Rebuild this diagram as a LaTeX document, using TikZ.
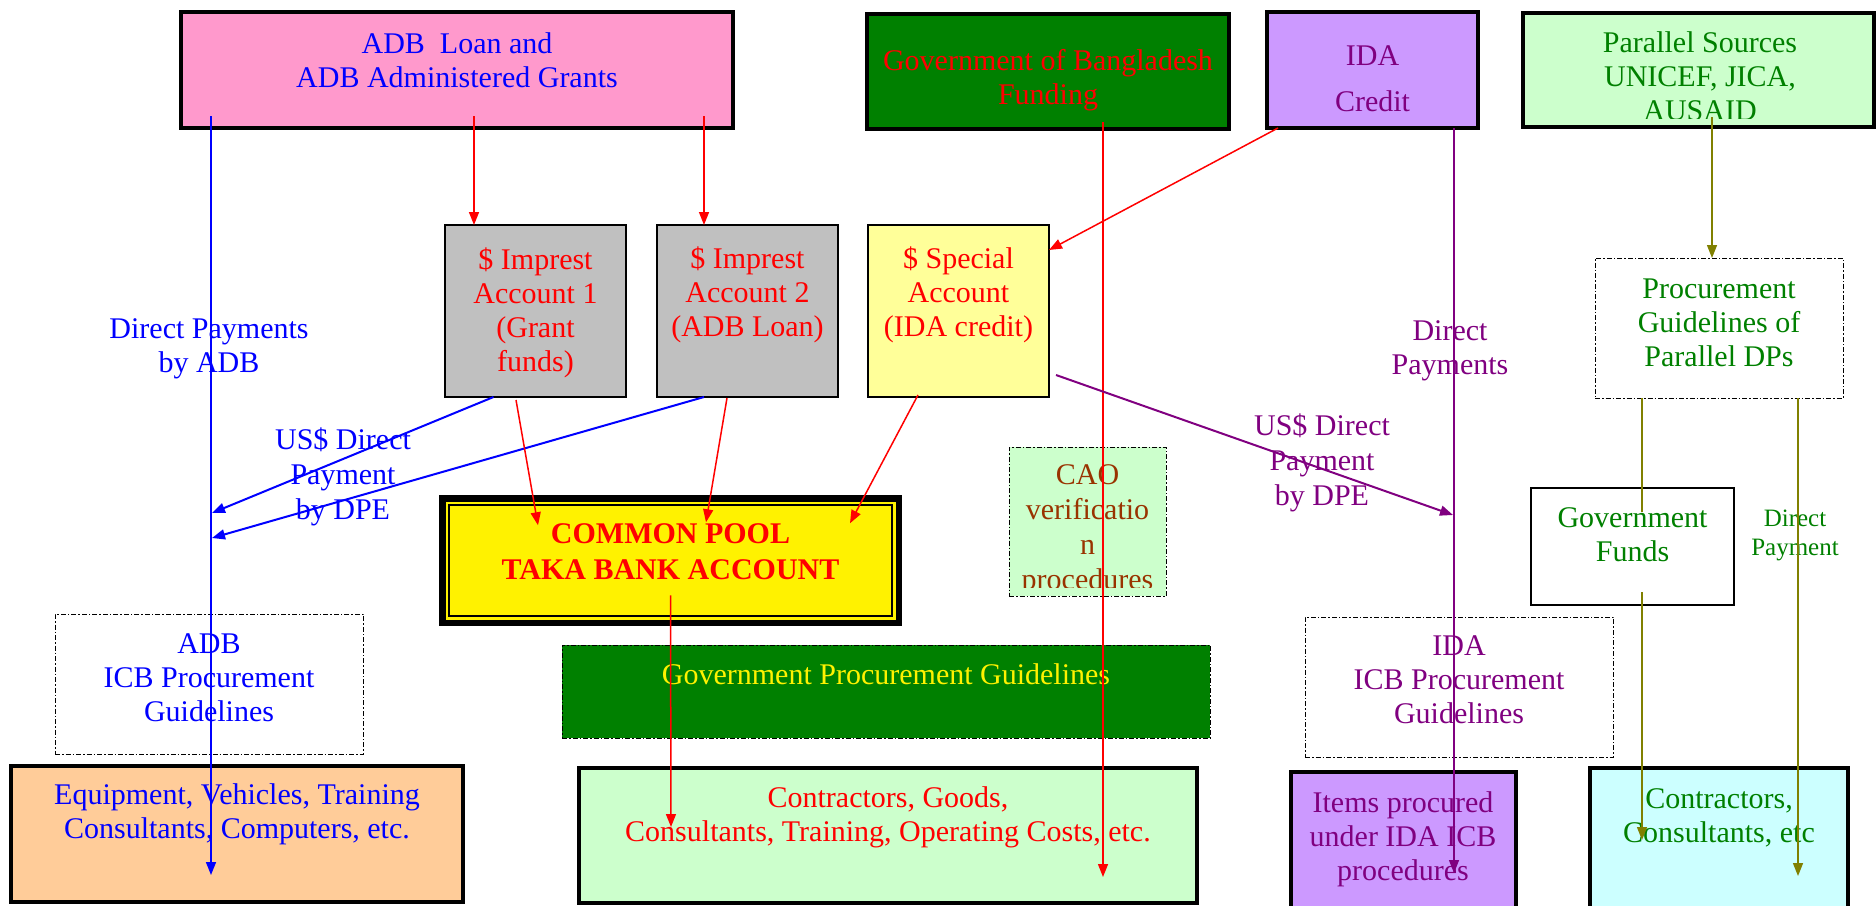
\documentclass[tikz,border=0pt]{standalone}
\usepackage{fontspec}
\setmainfont{Liberation Serif}
\usetikzlibrary{arrows.meta}
\definecolor{adbpink}{HTML}{FF99CC}
\definecolor{gobgreen}{HTML}{008000}
\definecolor{idalilac}{HTML}{CC99FF}
\definecolor{palegreen}{HTML}{CCFFCC}
\definecolor{impgray}{HTML}{C0C0C0}
\definecolor{spayellow}{HTML}{FFFF99}
\definecolor{caobrown}{HTML}{993300}
\definecolor{idapurple}{HTML}{800080}
\definecolor{olive}{HTML}{808000}
\definecolor{equiporange}{HTML}{FFCC99}
\definecolor{palecyan}{HTML}{CCFFFF}

\begin{document}
\begin{tikzpicture}[x=1pt,y=-1pt,
		box/.style={draw=black, line width=3.5pt, outer sep=0pt, inner sep=0pt},
		thinbox/.style={draw=black, line width=1.5pt, outer sep=0pt, inner sep=0pt},
		dotbox/.style={draw=black, line width=1pt, dash pattern=on 5pt off 2pt on 1.5pt off 2pt, outer sep=0pt, inner sep=0pt},
		txt/.style={align=center, inner sep=0pt, font=\fontsize{30}{34}\selectfont},
		arr/.style={line width=1.5pt, -{Triangle[length=13pt,width=10pt]}}]
		\useasboundingbox (0,0) rectangle (1876,905);
		% sources
		\node[box, fill=adbpink, minimum width=552pt, minimum height=116pt] (adb) at (457,70) {};
		\node[box, fill=gobgreen, minimum width=362pt, minimum height=115pt] (gob) at (1048,71.5) {};
		\node[box, fill=idalilac, minimum width=211pt, minimum height=116pt] (ida) at (1372.5,70) {};
		\node[box, fill=palegreen, minimum width=351pt, minimum height=114pt] (par) at (1698.5,70) {};
		% accounts
		\node[thinbox, fill=impgray, minimum width=181pt, minimum height=172pt] (imp1) at (535.5,311) {};
		\node[thinbox, fill=impgray, minimum width=181pt, minimum height=172pt] (imp2) at (747.5,311) {};
		\node[thinbox, fill=spayellow, minimum width=181pt, minimum height=172pt] (spa) at (958.5,311) {};
		\node[draw=black, line width=6.5pt, fill=yellow, outer sep=0pt, minimum width=456.5pt, minimum height=124.5pt] (pool) at (670.5,560.5) {};
		\draw[line width=1.8pt] ([shift={(6.5pt,-6.5pt)}]pool.north west) rectangle ([shift={(-6.5pt,6.5pt)}]pool.south east);
		\node[dotbox, fill=palegreen, minimum width=157pt, minimum height=149pt] (cao) at (1087.5,521.5) {};
		\node[dotbox, minimum width=248pt, minimum height=140pt] (ppg) at (1719,328) {};
		\node[draw=black, line width=2pt, outer sep=0pt, minimum width=203pt, minimum height=117pt] (gfund) at (1632.5,546.5) {};
		% guidelines
		\node[dotbox, minimum width=308pt, minimum height=140pt] (adbicb) at (209,684) {};
		\node[dotbox, fill=gobgreen, minimum width=648pt, minimum height=93pt] (gpg) at (886,691.5) {};
		\node[dotbox, minimum width=308pt, minimum height=140pt] (idaicb) at (1459,687) {};
		% end uses
		\node[box, fill=equiporange, minimum width=452pt, minimum height=136pt] (equip) at (237,834) {};
		\node[box, fill=palegreen, minimum width=618pt, minimum height=135pt] (cgoods) at (888,835.5) {};
		\node[box, fill=idalilac, minimum width=225pt, minimum height=143pt] (items) at (1403.5,843.5) {};
		\node[box, fill=palecyan, minimum width=258pt, minimum height=147pt] (ccons) at (1719,841.5) {};

		% texts
		\node[txt, blue] (adbtxt) at (457,60) {ADB\ \ Loan and\\ADB Administered Grants};
		\node[txt, red] (gobtxt) at (1048,80) {Government of Bangladesh\\Funding};
		\node[txt, idapurple] (idatxt) at (1372.5,78.5) {IDA\\[12pt]Credit};
		\begin{scope}
			\clip (par.north west) rectangle ([yshift=9pt]par.south east);
			\node[txt, gobgreen] (partxt) at (1700,76) {Parallel Sources\\UNICEF, JICA,\\AUSAID};
		\end{scope}
		\node[txt, red] (imp1txt) at (535.5,313) {\$ Imprest\\Account 1\\(Grant\\funds)};
		\node[txt, red] (imp2txt) at (747.5,295) {\$ Imprest\\Account 2\\(ADB Loan)};
		\node[txt, red] (spatxt) at (958.5,295) {\$ Special\\Account\\(IDA credit)};
		\node[txt, red, font=\fontsize{30}{36}\selectfont\bfseries] (pooltxt) at (670.5,552) {COMMON POOL\\TAKA BANK ACCOUNT};
		\begin{scope}
			\clip (cao.north west) rectangle ([yshift=9pt]cao.south east);
			\node[txt, caobrown, font=\fontsize{30}{35}\selectfont] (caotxt) at (1087.5,530) {CAO\\verificatio\\n\\procedures};
		\end{scope}
		\node[txt, gobgreen] (ppgtxt) at (1719,323) {Procurement\\Guidelines of\\Parallel DPs};
		\node[txt, gobgreen] (gfundtxt) at (1632.5,535) {Government\\Funds};
		\node[txt, blue] (adbicbtxt) at (209,678) {ADB\\ICB Procurement\\Guidelines};
		\node[txt, yellow] (gpgtxt) at (886,674) {Government Procurement Guidelines};
		\node[txt, idapurple] (idaicbtxt) at (1459,680) {IDA\\ICB Procurement\\Guidelines};
		\node[txt, blue] (equiptxt) at (237,814) {Equipment, Vehicles, Training\\Consultants, Computers, etc.};
		\node[txt, red] (cgoodstxt) at (888,817) {Contractors, Goods,\\Consultants, Training, Operating Costs, etc.};
		\node[txt, idapurple] (itemstxt) at (1403,839) {Items procured\\under IDA ICB\\procedures};
		\node[txt, gobgreen] (ccontxt) at (1719,818) {Contractors,\\Consultants, etc};
		% payment labels
		\node[txt, blue] (dpadb) at (209,349) {Direct Payments\\by ADB};
		\node[txt, blue, font=\fontsize{30}{35}\selectfont] (usdadb) at (343,477) {US\$ Direct\\Payment\\by DPE};
		\node[txt, idapurple] (dpida) at (1450,351) {Direct\\Payments};
		\node[txt, idapurple, font=\fontsize{30}{35}\selectfont] (usdida) at (1322,463) {US\$ Direct\\Payment\\by DPE};
		\node[txt, gobgreen, font=\fontsize{25}{29}\selectfont] (dpgov) at (1795,535) {Direct\\Payment};

		% flows
		\coordinate (adbhitA) at (212,513);
		\coordinate (adbhitB) at (212,538);
		\coordinate (idahit) at (1453,515);
		\draw[arr, blue] ([xshift=30pt,yshift=12pt]adb.south west) -- ([xshift=200pt,yshift=27pt]equip.south west);
		\draw[arr, blue, line width=2pt] ([xshift=-42pt]imp1.south) -- (adbhitA);
		\draw[arr, blue, line width=2pt] ([xshift=-43.5pt]imp2.south) -- (adbhitB);
		\draw[arr, red] ([xshift=-61.5pt,yshift=12pt]imp1.north |- adb.south) -- ([xshift=-61.5pt]imp1.north);
		\draw[arr, red] ([xshift=-43.5pt,yshift=12pt]imp2.north |- adb.south) -- ([xshift=-43.5pt]imp2.north);
		\draw[arr, red] ([xshift=11pt]ida.south west) -- ([yshift=61pt]spa.east);
		\draw[arr, red] ([xshift=55pt,yshift=7pt]gob.south) -- ([xshift=215pt,yshift=26pt]cgoods.south);
		\draw[arr, idapurple] ([xshift=81.5pt]ida.south) -- ([xshift=50.5pt,yshift=42pt]items.south);
		\draw[arr, idapurple, line width=2pt] ([xshift=7pt,yshift=-64pt]spa.east) -- (idahit);
		\draw[arr, red] ([xshift=-19.5pt,yshift=-3pt]imp1.south) -- ([xshift=-132.5pt,yshift=-27pt]pool.north);
		\draw[arr, red] ([xshift=-20.5pt,yshift=-1pt]imp2.south) -- ([xshift=35.5pt,yshift=-24pt]pool.north);
		\draw[arr, red] ([xshift=-40.5pt,yshift=2pt]spa.south) -- ([xshift=179.5pt,yshift=-25pt]pool.north);
		\draw[arr, red] ([yshift=-97pt]pool.north) -- ([xshift=-217pt,yshift=-59pt]cgoods.north);
		\draw[arr, olive] ([xshift=13.5pt,yshift=10pt]par.south) -- ([xshift=-7pt]ppg.north);
		\draw[line width=1.5pt, olive] ([xshift=-77pt]ppg.south) -- ([xshift=9.5pt,yshift=-24pt]gfund.north);
		\draw[arr, olive] ([xshift=9.5pt,yshift=13pt]gfund.south) -- ([xshift=-77pt,yshift=-72pt]ccons.north);
		\draw[arr, olive] ([xshift=79pt]ppg.south) -- ([xshift=79pt,yshift=-108pt]ccons.north);
\end{tikzpicture}
\end{document}
